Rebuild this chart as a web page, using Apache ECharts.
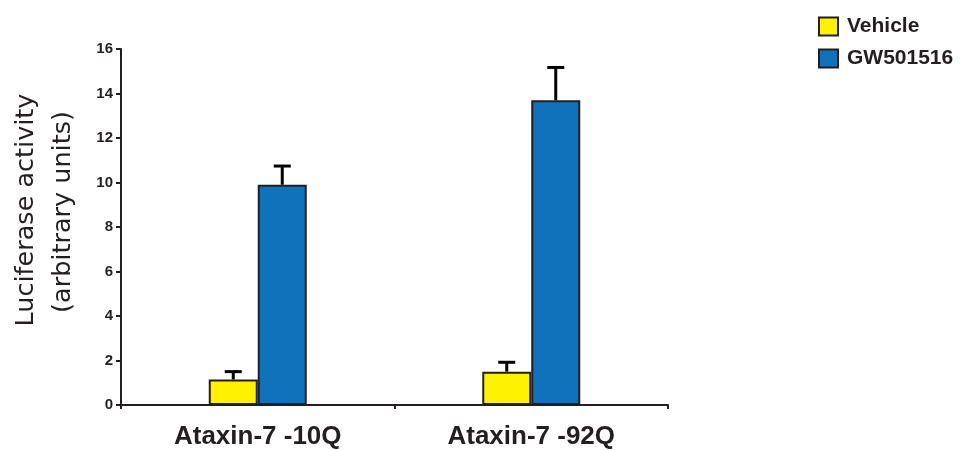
<!DOCTYPE html>
<html>
<head>
<meta charset="utf-8">
<script src="https://cdn.jsdelivr.net/npm/echarts@6/dist/echarts.min.js"></script>
<style>html,body{margin:0;padding:0;background:#fff}#c{width:969px;height:450px}</style>
</head>
<body>
<div id="c"></div>
<script>
const categories = ['Ataxin-7 -10Q', 'Ataxin-7 -92Q'];
const seriesNames = ['Vehicle', 'GW501516'];
const vehicleValues = [1.15, 1.5];
const vehicleErrTop = [1.5, 1.92];
const gwValues = [9.9, 13.7];
const gwErrTop = [10.74, 15.17];
const yTicks = [0, 2, 4, 6, 8, 10, 12, 14, 16];

const BAR_W = 49;
const dark = '#231f20';
const chart = echarts.init(document.getElementById('c'), null, {renderer: 'canvas'});

function errSeries(values, tops, sign) {
  return {
    type: 'custom',
    z: 5,
    data: values.map((v, i) => [i, v, tops[i]]),
    renderItem: function (params, api) {
      const p = api.coord([api.value(0), api.value(1)]);
      const q = api.coord([api.value(0), api.value(2)]);
      const x = p[0] + sign * BAR_W / 2;
      const cap = 8.5;
      return {
        type: 'group',
        children: [
          {type: 'line', shape: {x1: x, y1: p[1], x2: x, y2: q[1]}, style: {stroke: '#000', lineWidth: 3}},
          {type: 'line', shape: {x1: x - cap, y1: q[1], x2: x + cap, y2: q[1]}, style: {stroke: '#000', lineWidth: 3}}
        ]
      };
    }
  };
}

chart.setOption({
  animation: false,
  backgroundColor: '#fff',
  grid: {left: 121, right: 301, top: 49, bottom: 45, containLabel: false, outerBoundsMode: 'none'},
  legend: {
    data: seriesNames,
    orient: 'vertical',
    left: 813,
    top: 11,
    itemWidth: 19,
    itemHeight: 18,
    itemGap: 11,
    icon: 'rect',
    textStyle: {fontFamily: 'Liberation Sans, Arial, sans-serif', fontWeight: 'bold', fontSize: 21, color: dark, padding: [0, 0, 0, 4]}
  },
  xAxis: {
    type: 'category',
    data: categories,
    axisLine: {lineStyle: {color: dark, width: 2}},
    axisTick: {show: true, length: 4, lineStyle: {color: dark, width: 2}},
    axisLabel: {margin: 19, fontFamily: 'Liberation Sans, Arial, sans-serif', fontWeight: 'bold', fontSize: 26, color: dark}
  },
  yAxis: {
    type: 'value',
    min: 0, max: 16, interval: 2,
    splitLine: {show: false},
    axisLine: {show: true, lineStyle: {color: dark, width: 2}},
    axisTick: {show: true, length: 5, lineStyle: {color: dark, width: 2}},
    axisLabel: {margin: 8, fontFamily: 'Liberation Sans, Arial, sans-serif', fontWeight: 'bold', fontSize: 15, color: dark,
      formatter: v => yTicks.indexOf(v) >= 0 ? String(v) : ''}
  },
  graphic: [
    {type: 'text', x: 26, y: 210, rotation: Math.PI / 2, style: {text: 'Luciferase activity', fontFamily: 'DejaVu Sans, sans-serif', fontSize: 25.5, fill: dark, align: 'center', verticalAlign: 'middle'}},
    {type: 'text', x: 63, y: 212, rotation: Math.PI / 2, style: {text: '(arbitrary units)', fontFamily: 'DejaVu Sans, sans-serif', fontSize: 25.5, fill: dark, align: 'center', verticalAlign: 'middle'}}
  ],
  series: [
    {name: seriesNames[0], type: 'bar', data: vehicleValues, barWidth: BAR_W, barGap: '0%',
      itemStyle: {color: '#fff200', borderColor: dark, borderWidth: 2}},
    {name: seriesNames[1], type: 'bar', data: gwValues, barWidth: BAR_W, barGap: '0%',
      itemStyle: {color: '#1072ba', borderColor: dark, borderWidth: 2}},
    errSeries(vehicleValues, vehicleErrTop, -1),
    errSeries(gwValues, gwErrTop, 1)
  ]
});
</script>
</body>
</html>
